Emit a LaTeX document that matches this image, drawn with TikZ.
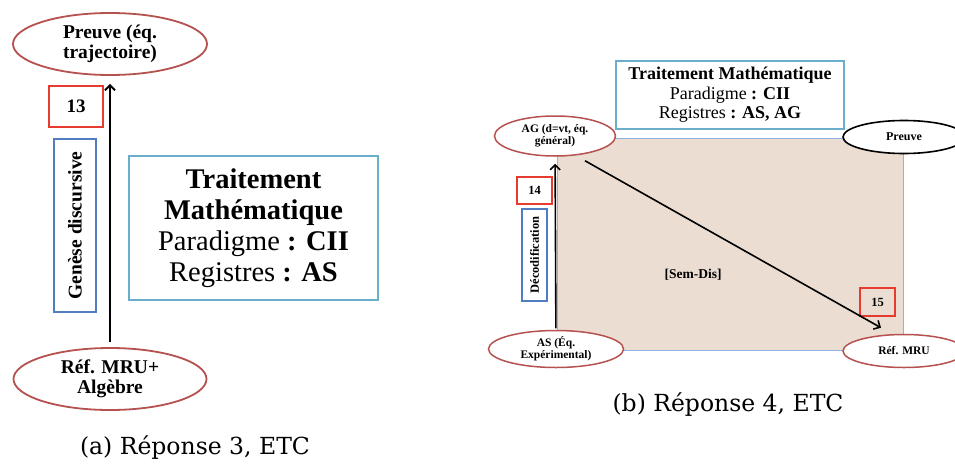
\documentclass[tikz,border=0pt]{standalone}
\usepackage{fontspec}
\setmainfont{Liberation Serif}
\newfontfamily\capfont{DejaVu Serif}
\usetikzlibrary{arrows.meta,shapes.geometric,calc}
\definecolor{ellred}{HTML}{B5524F}
\definecolor{numred}{HTML}{E63B2E}
\definecolor{genblue}{HTML}{4F7DC0}
\definecolor{traitteal}{HTML}{6AAECB}
\definecolor{fieldbeige}{HTML}{EBDDD1}
\definecolor{fieldblue}{HTML}{8DB3E2}
\tikzset{
  refell/.style={ellipse,draw=ellred,fill=white,line width=1.8pt,inner sep=0pt,align=center},
  blackell/.style={ellipse,draw=black,fill=white,line width=1.6pt,inner sep=0pt,align=center},
  numbox/.style={draw=numred,line width=1.8pt,inner sep=0pt,font=\bfseries},
  genbox/.style={draw=genblue,line width=1.6pt,inner sep=0pt,rotate=90,font=\bfseries},
  traitbox/.style={draw=traitteal,line width=2pt,inner sep=0pt,align=center},
  flow/.style={-{Straight Barb[length=5pt,width=10pt]},line width=2pt},
  caption/.style={font=\capfont\fontsize{23.5pt}{28pt}\selectfont},
}

\begin{document}
\begin{tikzpicture}[x=1pt,y=-1pt]
\useasboundingbox (0,0) rectangle (955,463);
% (a) Reponse 3
\node[refell,minimum width=194pt,minimum height=62pt,font=\bfseries\fontsize{19.5pt}{20pt}\selectfont] (preuveA) at (110,44) {Preuve (éq.\\trajectoire)};
\node[refell,minimum width=193pt,minimum height=62pt,font=\bfseries\fontsize{19.5pt}{20pt}\selectfont] (refA) at (110,379) {Réf. MRU+\\Algèbre};
\node[numbox,minimum width=54pt,minimum height=41pt,font=\bfseries\fontsize{19pt}{20pt}\selectfont] (n13) at (76,106.5) {13};
\node[genbox,minimum width=173pt,minimum height=42pt,font=\bfseries\fontsize{19.5pt}{20pt}\selectfont] (genA) at (75,225.5) {Genèse discursive};
\node[traitbox,minimum width=249pt,minimum height=144pt,font=\fontsize{28.5pt}{31pt}\selectfont] (traitA) at (253.5,228) {\textbf{Traitement}\\\textbf{Mathématique}\\Paradigme \textbf{: CII}\\Registres \textbf{: AS}};
\draw[flow,shorten <=5pt,shorten >=8pt] (refA) -- (preuveA);
\node[caption] (capA) at (195,448) {(a) Réponse 3, ETC};

% (b) Reponse 4
\node[draw=fieldblue,fill=fieldbeige,line width=1pt,minimum width=346pt,minimum height=212pt,inner sep=0pt] (field) at (730,244) {};
\node[font=\bfseries\fontsize{13.5pt}{15pt}\selectfont] (semdis) at (693,275) {[Sem-Dis]};
\node[traitbox,fill=white,minimum width=228pt,minimum height=68pt,font=\fontsize{18pt}{19.5pt}\selectfont] (traitB) at (730,95) {\textbf{Traitement Mathématique}\\Paradigme \textbf{: CII}\\Registres \textbf{: AS, AG}};
\node[refell,line width=1.5pt,minimum width=121pt,minimum height=40pt,font=\bfseries\fontsize{11.5pt}{12.5pt}\selectfont] (ag) at (555,136) {AG (d=vt, éq.\\général)};
\node[refell,line width=1.5pt,minimum width=135pt,minimum height=37pt,font=\bfseries\fontsize{11.5pt}{12.5pt}\selectfont] (as) at (556,349) {AS (Éq.\\Expérimental)};
\node[blackell,minimum width=122pt,minimum height=33pt,font=\bfseries\fontsize{12pt}{13pt}\selectfont] (preuveB) at (904,137) {Preuve};
\node[refell,line width=1.5pt,minimum width=122pt,minimum height=33pt,font=\bfseries\fontsize{11.5pt}{13pt}\selectfont] (mru) at (904,351) {Réf. MRU};
\node[numbox,line width=1.5pt,minimum width=35pt,minimum height=27pt,font=\bfseries\fontsize{12.5pt}{14pt}\selectfont] (n14) at (534.5,190.5) {14};
\node[genbox,line width=1.3pt,minimum width=92pt,minimum height=25pt,font=\bfseries\fontsize{12.5pt}{14pt}\selectfont] (decod) at (534.5,255) {Décodification};
\node[numbox,line width=1.5pt,minimum width=35pt,minimum height=28pt,font=\bfseries\fontsize{12.5pt}{14pt}\selectfont] (n15) at (877.5,302) {15};
\draw[flow,line width=1.6pt,shorten <=1.5pt,shorten >=7pt] (as) -- (ag);
\draw[flow,line width=1.6pt] ($(ag.south)+(30,4)$) -- ($(mru.north)+(-23,-6)$);
\node[caption] (capB) at (728,405) {(b) Réponse 4, ETC};
\end{tikzpicture}
\end{document}
